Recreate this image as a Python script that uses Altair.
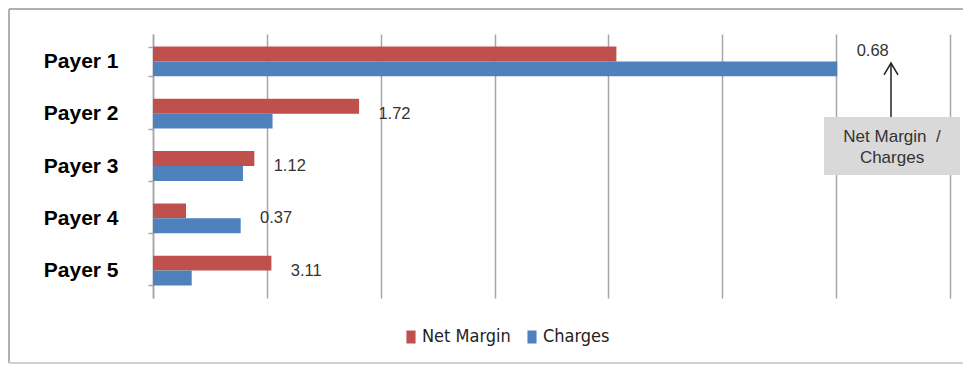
import altair as alt
import pandas as pd

payers = ["Payer 1", "Payer 2", "Payer 3", "Payer 4", "Payer 5"]
net_margin = [4.07, 1.81, 0.89, 0.29, 1.04]
charges = [6.01, 1.05, 0.79, 0.77, 0.34]
ratio_labels = ["0.68", "1.72", "1.12", "0.37", "3.11"]
series = ["Net Margin", "Charges"]
colors = ["#C0504D", "#4F81BD"]
x_ticks = [0, 1, 2, 3, 4, 5, 6, 7]

rows = []
for p, nm, ch in zip(payers, net_margin, charges):
    rows.append({"Payer": p, "Series": "Net Margin", "Value": nm})
    rows.append({"Payer": p, "Series": "Charges", "Value": ch})
bars_df = pd.DataFrame(rows)

labels_df = pd.DataFrame({
    "Payer": payers,
    "Label": ratio_labels,
    "Pos": [max(a, b) + 0.17 for a, b in zip(net_margin, charges)],
})

W, H = 797, 264

x_scale = alt.Scale(domain=[0, 7], nice=False, zero=True)
y_scale = alt.Scale(domain=payers, paddingInner=0.43, paddingOuter=0.24)

bars = alt.Chart(bars_df).mark_bar().encode(
    y=alt.Y("Payer:N", scale=y_scale, sort=payers,
            axis=alt.Axis(title=None, labelFont="Liberation Sans", labelFontWeight="bold",
                          labelFontSize=21, labelColor="#000000", domainColor="#a6a6a6",
                          domainWidth=1.5, tickColor="#a6a6a6", tickSize=5, tickWidth=1.5,
                          tickBand="extent", labelPadding=30)),
    x=alt.X("Value:Q", scale=x_scale,
            axis=alt.Axis(title=None, labels=False, ticks=False, domain=False, grid=True,
                          values=x_ticks, gridColor="#a6a6a6", gridWidth=1.5)),
    yOffset=alt.YOffset("Series:N", sort=series, scale=alt.Scale(paddingInner=0, paddingOuter=0)),
    color=alt.Color("Series:N", sort=series, scale=alt.Scale(domain=series, range=colors),
                    legend=alt.Legend(title=None, orient="none", direction="horizontal",
                                      legendX=249, legendY=294,
                                      labelFont="Liberation Sans Narrow, DejaVu Sans Condensed, sans-serif",
                                      labelFontSize=18, labelColor="#222222",
                                      symbolType="M-0.7,-1H0.7V1H-0.7Z", symbolSize=169,
                                      symbolStrokeWidth=0, labelOffset=2, columnPadding=12)),
)

label_font = "Liberation Sans"

labels_main = alt.Chart(labels_df).transform_filter(
    alt.datum.Payer != "Payer 1"
).mark_text(align="left", baseline="middle", font=label_font, fontSize=16.5, color="#333333").encode(
    y=alt.Y("Payer:N", scale=y_scale, sort=payers),
    x=alt.X("Pos:Q", scale=x_scale),
    text="Label:N",
)

labels_p1 = alt.Chart(labels_df).transform_filter(
    alt.datum.Payer == "Payer 1"
).mark_text(align="left", baseline="middle", font=label_font, fontSize=16.5, color="#333333", dy=-10).encode(
    y=alt.Y("Payer:N", scale=y_scale, sort=payers),
    x=alt.X("Pos:Q", scale=x_scale),
    text="Label:N",
)

one = pd.DataFrame({"a": [0]})

frame_top = alt.Chart(one).mark_rule(color="#b0b0b0", strokeWidth=2).encode(
    x=alt.value(-144), x2=alt.value(812), y=alt.value(-25)
)
frame_left = alt.Chart(one).mark_rule(color="#b0b0b0", strokeWidth=2).encode(
    x=alt.value(-144), y=alt.value(-25), y2=alt.value(329)
)
frame_bottom = alt.Chart(one).mark_rule(color="#d0d0d0", strokeWidth=2).encode(
    x=alt.value(-144), x2=alt.value(812), y=alt.value(329)
)

box = alt.Chart(one).mark_rect(fill="#d9d9d9").encode(
    x=alt.value(671), x2=alt.value(807), y=alt.value(83), y2=alt.value(141)
)

box_text1 = alt.Chart(one).mark_text(align="center", baseline="middle", font=label_font,
                                      fontSize=17, color="#333333").encode(
    x=alt.value(739), y=alt.value(103), text=alt.value("Net Margin\u00a0\u00a0/")
)
box_text2 = alt.Chart(one).mark_text(align="center", baseline="middle", font=label_font,
                                      fontSize=17, color="#333333").encode(
    x=alt.value(739), y=alt.value(124), text=alt.value("Charges")
)

arrow = alt.Chart(one).mark_rule(color="#222222", strokeWidth=1.5).encode(
    x=alt.value(738), y=alt.value(83), y2=alt.value(29)
)
arrow_head = alt.Chart(one).mark_point(shape="M-0.5,0.85L0,0L0.5,0.85", size=784, filled=False,
                                       color="#222222", strokeWidth=1.5, opacity=1).encode(
    x=alt.value(738), y=alt.value(29)
)

chart = alt.layer(
    frame_top, frame_left, frame_bottom, bars, labels_main, labels_p1,
    box, box_text1, box_text2, arrow, arrow_head
).properties(
    width=W, height=H,
    padding={"left": 145, "top": 26, "right": 13, "bottom": 66},
    autosize=alt.AutoSizeParams(type="none"),
    background="white",
).configure_view(stroke=None)

chart.save("out.html", embed_options={"renderer": "svg", "actions": False})
